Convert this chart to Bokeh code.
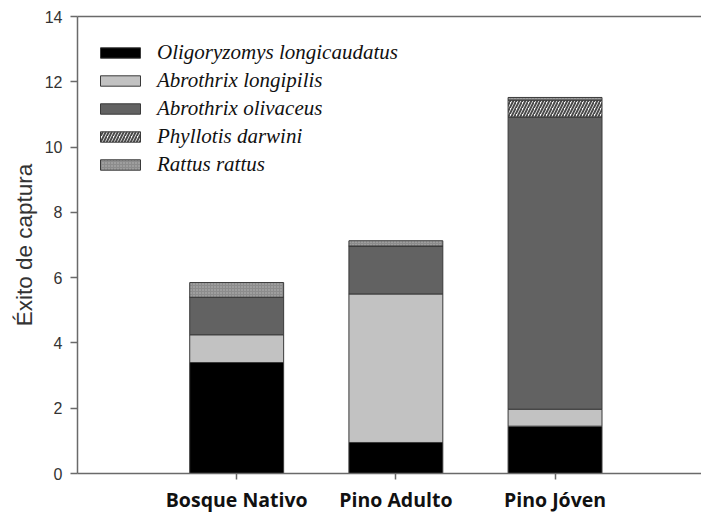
from bokeh.plotting import figure
from bokeh.models import ColumnDataSource, Range1d, LinearAxis, FixedTicker
from bokeh.embed import file_html
from bokeh.resources import INLINE

# Capture success per habitat, stacked by species
habitats = ["Bosque Nativo", "Pino Adulto", "Pino Jóven"]
species = ["Oligoryzomys longicaudatus", "Abrothrix longipilis",
           "Abrothrix olivaceus", "Phyllotis darwini", "Rattus rattus"]
oligoryzomys = [3.40, 0.95, 1.45]
longipilis = [0.85, 4.55, 0.52]
olivaceus = [1.15, 1.47, 8.95]
phyllotis = [0.00, 0.00, 0.52]
rattus = [0.45, 0.16, 0.08]
y_ticks = [0, 2, 4, 6, 8, 10, 12, 14]

keys = ["oligo", "longi", "oliva", "phyll", "rattus"]
positions = [i + 1 for i in range(len(habitats))]
source = ColumnDataSource(dict(
    x=positions,
    oligo=oligoryzomys, longi=longipilis, oliva=olivaceus,
    phyll=phyllotis, rattus=rattus,
))

p = figure(width=701, height=523, output_backend="svg", toolbar_location=None,
           x_range=Range1d(0, 3.92), y_range=Range1d(0, 14),
           min_border_left=77, min_border_right=0, min_border_top=16,
           min_border_bottom=50)
p.outline_line_color = None
p.border_fill_color = "white"
p.grid.visible = False
p.background_fill_color = "white"

p.vbar_stack(
    keys, x="x", width=0.59, source=source,
    fill_color=["#000000", "#c2c2c2", "#626262", "#ffffff", "#8c8c8c"],
    line_color="#3a3a3a", line_width=1,
    hatch_pattern=[" ", " ", " ", "/", "."],
    hatch_color=["#000000", "#000000", "#000000", "#4a4a4a", "#b8b8b8"],
    hatch_scale=[6, 6, 6, 6, 3],
    hatch_weight=[1, 1, 1, 2, 1],
    legend_label=species,
)

# y axis
ya = p.yaxis[0]
ya.ticker = FixedTicker(ticks=y_ticks)
ya.minor_tick_line_color = None
ya.axis_line_color = "#6a6a6a"
ya.axis_line_width = 1.5
ya.major_tick_line_color = "#6a6a6a"
ya.major_tick_line_width = 1.5
ya.major_tick_in = 0
ya.major_tick_out = 7
ya.major_label_text_font = "Liberation Sans"
ya.major_label_text_font_size = "16px"
ya.major_label_text_color = "#333333"
ya.major_label_standoff = 8
ya.axis_label = "Éxito de captura"
ya.axis_label_text_font = "Liberation Sans"
ya.axis_label_text_font_style = "normal"
ya.axis_label_text_font_size = "22.5px"
ya.axis_label_text_color = "#333333"
ya.axis_label_standoff = 5

# x axis
xa = p.xaxis[0]
xa.ticker = FixedTicker(ticks=positions)
xa.major_label_overrides = {pos: name for pos, name in zip(positions, habitats)}
xa.minor_tick_line_color = None
xa.axis_line_color = "#6a6a6a"
xa.axis_line_width = 1.5
xa.major_tick_line_color = "#6a6a6a"
xa.major_tick_line_width = 1.5
xa.major_tick_in = 0
xa.major_tick_out = 6
xa.major_label_text_font = "Open Sans"
xa.major_label_text_font_style = "bold"
xa.major_label_text_font_size = "19.5px"
xa.major_label_text_color = "#111111"
xa.major_label_standoff = 6

# top frame line
top = LinearAxis(ticker=FixedTicker(ticks=[]), major_label_text_font_size="0px",
                 axis_line_color="#6a6a6a", axis_line_width=1.5,
                 major_tick_line_color=None, minor_tick_line_color=None,
                 axis_label=None)
p.add_layout(top, "above")
p.min_border_right = 0

leg = p.legend[0]
leg.location = (18, 296)
leg.border_line_color = None
leg.background_fill_alpha = 0
leg.label_text_font = "Times New Roman, Liberation Serif, serif"
leg.label_text_font_style = "italic"
leg.label_text_font_size = "21px"
leg.label_text_color = "#111111"
leg.glyph_width = 50
leg.glyph_height = 13
leg.label_height = 20
leg.spacing = 3
leg.margin = 0
leg.padding = 10
leg.label_standoff = 12

open("out.html", "w").write(file_html(p, INLINE))
